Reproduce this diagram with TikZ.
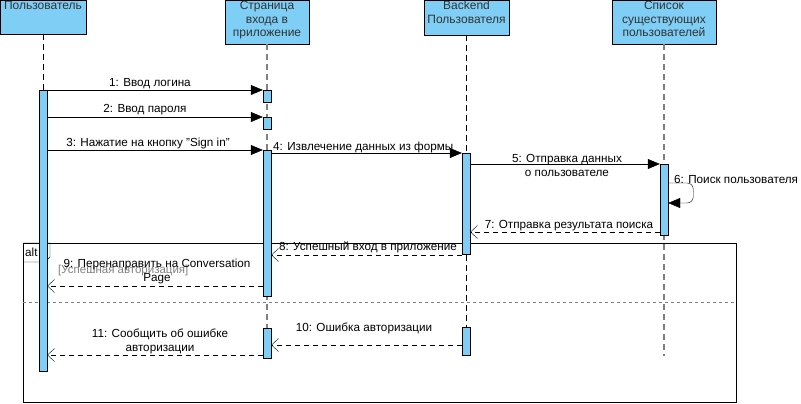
\documentclass[tikz,border=0pt]{standalone}
\usepackage{fontspec}
\setmainfont{Liberation Sans}
\usetikzlibrary{positioning,arrows.meta}
\definecolor{barblue}{RGB}{126,206,245}
\definecolor{lifegray}{RGB}{128,128,128}
\begin{document}
\begin{tikzpicture}[x=1pt,y=-1pt]

	\tikzset{
		headbox/.style={draw,fill=barblue,inner sep=0pt,anchor=north},
		headtxt/.style={inner sep=1pt,anchor=north,align=center,
			font=\fontsize{12}{13.5}\selectfont,text=black!80},
		bar/.style={draw,fill=barblue,minimum width=8pt,inner sep=0pt,anchor=north},
		life/.style={dash pattern=on 6pt off 4pt},
		graylife/.style={dash pattern=on 6pt off 4pt,lifegray,line width=1.5pt},
		msg/.style={-{Triangle[length=12pt,width=10pt]}},
		ret/.style={dash pattern=on 5pt off 4pt,-{Straight Barb[length=7pt,width=13pt]}},
		lbl/.style={inner sep=0pt,align=center,font=\fontsize{11.7}{14}\selectfont},
		guard/.style={inner sep=0pt,font=\fontsize{11.5}{14}\selectfont,text=lifegray},
	}

	\useasboundingbox (0,0) rectangle (801,404);

	% alt frame
	\node[draw,minimum width=713pt,minimum height=159pt,inner sep=0pt,anchor=north west] (alt) at (23,243) {};
	\draw (alt.north west) -- ++(27,0) -- ++(0,14) -- ++(-5,5) -- ++(-22,0);
	\node[lbl,anchor=west] (altname) at (25,252) {alt};
	\draw[dashed,lifegray] (alt.west |- 0,302) -- (alt.east |- 0,302);
	\node[guard,anchor=west] (grd) at (58,271) {[Успешная авторизация]};

	% heads
	\node[headbox,minimum width=86pt,minimum height=34pt] (hU) at (43,0) {};
	\node[headtxt] (tU) at (hU.north) {Пользователь};
	\node[headbox,minimum width=84pt,minimum height=44pt] (hP) at (267,0) {};
	\node[headtxt] (tP) at (hP.north) {Страница\\входа в\\приложение};
	\node[headbox,minimum width=85pt,minimum height=35pt] (hB) at (466.5,0) {};
	\node[headtxt] (tB) at (hB.north) {Backend\\Пользователя};
	\node[headbox,minimum width=104pt,minimum height=44pt] (hS) at (664,0) {};
	\node[headtxt] (tS) at (hS.north) {Список\\существующих\\пользователей};

	% lifelines
	\coordinate (eU) at (43,90);
	\coordinate (eP) at (267,358);
	\coordinate (eB) at (466,356);
	\coordinate (eS) at (664,356);
	\draw[life] (hU.south) -- (eU);
	\draw[graylife] (hP.south) -- (eP);
	\draw[life] (hB.south -| eB) -- (eB);
	\draw[graylife] (hS.south) -- (eS);

	% activations
	\node[bar,minimum height=281pt] (aU) at (43,90) {};
	\node[bar,minimum height=12pt] (aP1) at (267,90) {};
	\node[bar,minimum height=12pt] (aP2) at (267,117) {};
	\node[bar,minimum height=146pt] (aP3) at (267,150) {};
	\node[bar,minimum height=30pt] (aP4) at (267,328) {};
	\node[bar,minimum height=101pt] (aB1) at (466,153) {};
	\node[bar,minimum height=28pt] (aB2) at (466,327) {};
	\node[bar,minimum height=71pt] (aS) at (664,164) {};

	% messages
	\draw[msg] (aU.east |- 0,90) -- (aP1.west |- 0,90);
	\node[lbl] (l1) at (150,84) {1: Ввод логина};
	\draw[msg] (aU.east |- 0,117) -- (aP2.west |- 0,117);
	\node[lbl] (l2) at (145,110) {2: Ввод пароля};
	\draw[msg] (aU.east |- 0,150) -- (aP3.west |- 0,150);
	\node[lbl] (l3) at (148,143) {3: Нажатие на кнопку "Sign in"};
	\draw[msg] (aP3.east |- 0,153) -- (aB1.west |- 0,153);
	\node[lbl,anchor=west] (l4) at (273,147) {4: Извлечение данных из формы};
	\draw[msg] (aB1.east |- 0,164) -- (aS.west |- 0,164);
	\node[lbl] (l5) at (567,165) {5: Отправка данных\\о пользователе};
	\draw[msg,rounded corners=6pt] (aS.east |- 0,183) -- ++(25,0) -- ++(0,20) -- (aS.east |- 0,203);
	\node[lbl,anchor=west] (l6) at (674,179) {6: Поиск пользователя};
	\draw[ret] (aS.west |- 0,232) -- (aB1.east |- 0,232);
	\node[lbl] (l7) at (569,226) {7: Отправка результата поиска};
	\draw[ret] (aB1.west |- 0,255) -- (aP3.east |- 0,255);
	\node[lbl] (l8) at (368,247) {8: Успешный вход в приложение};
	\draw[ret] (aP3.west |- 0,286) -- (aU.east |- 0,286);
	\node[lbl] (l9) at (157,271) {9: Перенаправить на Conversation\\Page};
	\draw[ret] (aB2.west |- 0,345) -- (aP4.east |- 0,345);
	\node[lbl] (l10) at (364,328) {10: Ошибка авторизации};
	\draw[ret] (aP4.west |- 0,355) -- (aU.east |- 0,355);
	\node[lbl] (l11) at (160,341) {11: Сообщить об ошибке\\авторизации};

\end{tikzpicture}
\end{document}
